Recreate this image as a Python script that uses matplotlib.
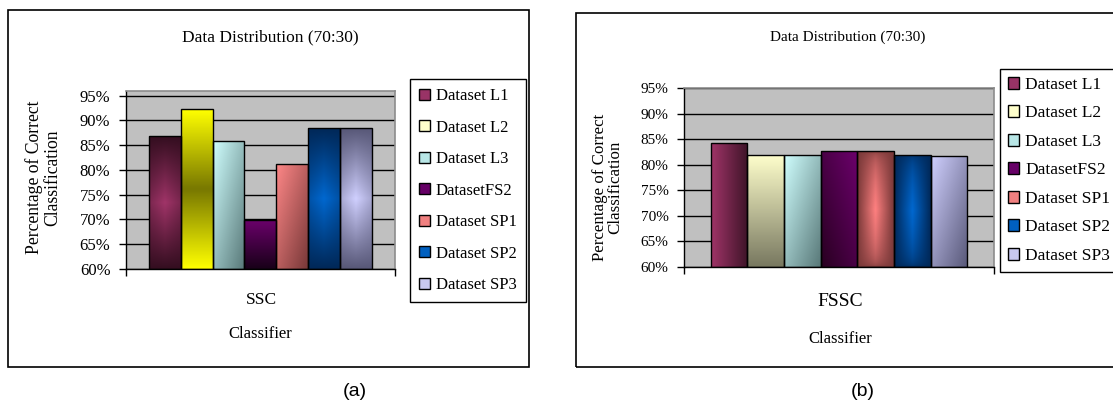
import numpy as np
import matplotlib
matplotlib.use('Agg')
import matplotlib.pyplot as plt
from matplotlib.colors import LinearSegmentedColormap
from matplotlib.patches import Patch, Rectangle

plt.rcParams['font.family'] = ['Liberation Serif', 'DejaVu Serif']

# data
datasets = ['Dataset L1', 'Dataset L2', 'Dataset L3', 'DatasetFS2',
            'Dataset SP1', 'Dataset SP2', 'Dataset SP3']
ssc_acc = [86.8, 92.3, 85.9, 69.9, 81.3, 88.4, 88.4]
fssc_acc = [84.3, 82.0, 82.0, 82.7, 82.7, 82.0, 81.8]
classifiers = ['SSC', 'FSSC']
y_ticks = [60, 65, 70, 75, 80, 85, 90, 95]
y_ticklabels = ['60%', '65%', '70%', '75%', '80%', '85%', '90%', '95%']

# styles
legend_colors = ['#993366', '#ffffcc', '#b8e6e6', '#660066', '#f08080', '#0060c0', '#c8c8f0']
# (light, dark, gradient kind) per bar
grad_a = [('#a03468', '#340e20', 'vmid'), ('#ffff00', '#787800', 'vmid_inv'),
          ('#d0ffff', '#587878', 'diag'), ('#6c006c', '#180018', 'vert'),
          ('#ff8888', '#783838', 'diag'), ('#0068d0', '#002858', 'vmid'),
          ('#d0d0ff', '#585878', 'vmid')]
grad_b = [('#a03468', '#3e1428', 'horiz'), ('#ffffcc', '#787860', 'vert'),
          ('#d0ffff', '#587878', 'diag'), ('#6c006c', '#280020', 'diag_tr'),
          ('#ff8080', '#783838', 'center'), ('#0068d0', '#002858', 'center'),
          ('#d0d0ff', '#585878', 'diag')]

W, H = 1113, 404
Y_MIN = 60
BAR_W = 0.118


def fx(px):
    return px / W


def fy(py):
    return 1 - py / H


def grad_field(kind, n=120):
    yy, xx = np.mgrid[0:1:n * 1j, 0:1:n * 1j]
    if kind == 'vmid':
        t = (1 - np.abs(2 * yy - 1)) * (1 - 0.35 * np.abs(2 * xx - 1))
    elif kind == 'vmid_inv':
        t = np.abs(2 * yy - 1)
    elif kind == 'vert':
        t = yy
    elif kind == 'horiz':
        t = 1 - xx
    elif kind == 'diag':
        t = ((1 - xx) + yy) / 2
    elif kind == 'diag_tr':
        t = (xx + yy) / 2
    else:  # center
        t = (1 - np.abs(2 * xx - 1)) * (1 - np.abs(2 * yy - 1)) ** 0.4
    return t


def draw_panel(ax, values, styles, ymax, tick_fs, pad):
    n = len(values)
    x = (np.arange(n) - (n - 1) / 2) * BAR_W
    bars = ax.bar(x, np.array(values) - Y_MIN, bottom=Y_MIN, width=BAR_W,
                  facecolor='none', edgecolor='black', linewidth=1.0, zorder=3)
    for bar, (light, dark, kind) in zip(bars, styles):
        cmap = LinearSegmentedColormap.from_list('g', [dark, light])
        x0, y0 = bar.get_x(), bar.get_y()
        im = ax.imshow(grad_field(kind), origin='lower', cmap=cmap, vmin=0, vmax=1,
                       extent=[x0, x0 + bar.get_width(), y0, y0 + bar.get_height()],
                       aspect='auto', interpolation='bilinear', zorder=2)
        im.set_clip_path(bar)
    ax.set_xlim(-0.5, 0.5)
    ax.set_ylim(Y_MIN, ymax)
    ax.set_facecolor('#c0c0c0')
    ax.set_yticks(y_ticks)
    ax.set_yticklabels(y_ticklabels, fontsize=tick_fs)
    ax.yaxis.grid(True, color='black', linewidth=1)
    ax.set_axisbelow(True)
    ax.set_xticks([-0.5, 0.5])
    ax.set_xticklabels([])
    ax.tick_params(axis='both', direction='out', length=5, width=1, color='black')
    ax.tick_params(axis='y', pad=pad)
    for s in ['left', 'bottom']:
        ax.spines[s].set_color('black')
        ax.spines[s].set_linewidth(1)
    for s in ['top', 'right']:
        ax.spines[s].set_color('#8c8c8c')
        ax.spines[s].set_linewidth(1.2)


fig = plt.figure(figsize=(W / 100, H / 100), dpi=100)

# outer chart frames
fig.patches.append(Rectangle((fx(8), fy(367)), fx(521), (367 - 10) / H, fill=False,
                             edgecolor='black', linewidth=1.2, transform=fig.transFigure))
fig.patches.append(Rectangle((fx(576), fy(367)), fx(560), (367 - 13) / H, fill=False,
                             edgecolor='black', linewidth=1.2, transform=fig.transFigure))

# panel (a)
ax_a = fig.add_axes([fx(125.7), fy(269), (395 - 125.7) / W, (269 - 90.7) / H])
draw_panel(ax_a, ssc_acc, grad_a, 96, 12, 6)

# panel (b)
ax_b = fig.add_axes([fx(683.7), fy(266.7), (994.3 - 683.7) / W, (266.7 - 88.3) / H])
draw_panel(ax_b, fssc_acc, grad_b, 95, 11, 6)

handles = [Patch(facecolor=c, edgecolor='black', linewidth=1) for c in legend_colors]
fig.legend(handles, datasets, loc='upper left', bbox_to_anchor=(fx(410), fy(79)),
           bbox_transform=fig.transFigure, fontsize=12, frameon=True, fancybox=False,
           edgecolor='black', framealpha=1, borderaxespad=0, borderpad=0.55,
           labelspacing=0.93, handlelength=0.65, handleheight=0.65, handletextpad=0.35)
leg_b = fig.legend(handles, datasets, loc='upper left', bbox_to_anchor=(fx(1000), fy(69)),
                   bbox_transform=fig.transFigure, fontsize=12.5, frameon=True, fancybox=False,
                   edgecolor='black', framealpha=1, borderaxespad=0, borderpad=0.45,
                   labelspacing=0.72, handlelength=0.65, handleheight=0.65, handletextpad=0.35)
leg_b.get_frame().set_linewidth(1)

# titles
fig.text(fx(270), fy(37), 'Data Distribution (70:30)', ha='center', va='center', fontsize=12.5)
fig.text(fx(848), fy(37), 'Data Distribution (70:30)', ha='center', va='center', fontsize=11)

# y labels
ylab = 'Percentage of Correct\nClassification'
fig.text(fx(43), fy(177.5), ylab, rotation=90, ha='center', va='center',
         fontsize=12.7, linespacing=1.1, multialignment='center')
fig.text(fx(607.5), fy(187.5), ylab, rotation=90, ha='center', va='center',
         fontsize=12.2, linespacing=1.0, multialignment='center')

# category and axis titles
fig.text(fx(261), fy(300.5), classifiers[0], ha='center', va='center', fontsize=12.5)
fig.text(fx(260), fy(334), 'Classifier', ha='center', va='center', fontsize=12)
fig.text(fx(840), fy(302), classifiers[1], ha='center', va='center', fontsize=14)
fig.text(fx(840), fy(339), 'Classifier', ha='center', va='center', fontsize=12)

# panel letters
fig.text(fx(355), fy(391), '(a)', ha='center', va='center', fontsize=14,
         family=['Liberation Sans', 'DejaVu Sans'])
fig.text(fx(863), fy(391), '(b)', ha='center', va='center', fontsize=14,
         family=['Liberation Sans', 'DejaVu Sans'])

fig.savefig('out.png', dpi=100)
